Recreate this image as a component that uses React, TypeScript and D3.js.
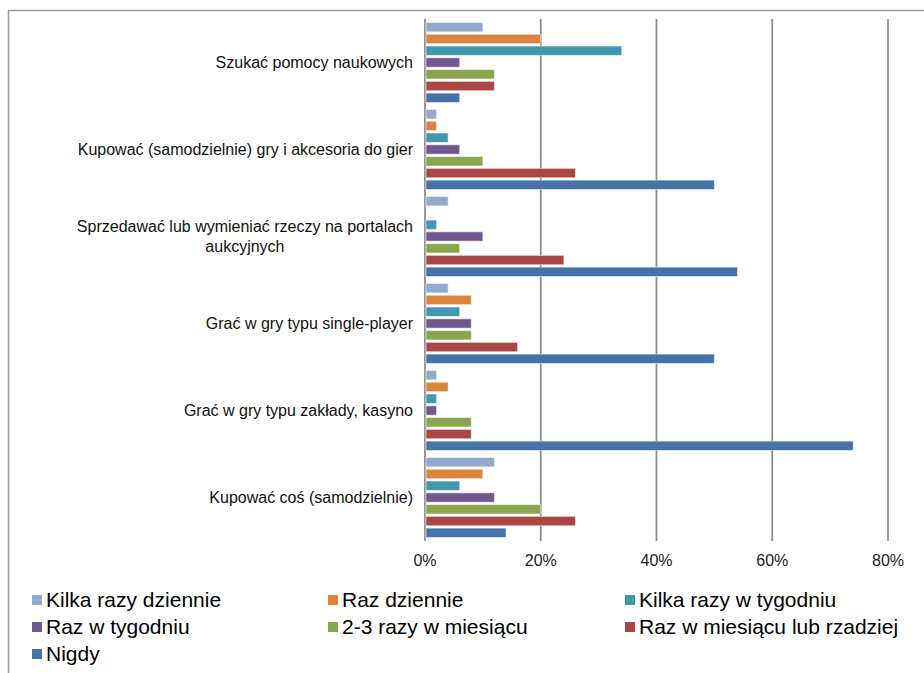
import React, { useEffect, useRef } from "react";
import * as d3 from "d3";

// Categories, top to bottom as they appear in the chart.
const categories = [
  ["Szukać pomocy naukowych"],
  ["Kupować (samodzielnie) gry i akcesoria do gier"],
  ["Sprzedawać lub wymieniać rzeczy na portalach", "aukcyjnych"],
  ["Grać w gry typu single-player"],
  ["Grać w gry typu zakłady, kasyno"],
  ["Kupować coś (samodzielnie)"],
];

const seriesNames = [
  "Kilka razy dziennie",
  "Raz dziennie",
  "Kilka razy w tygodniu",
  "Raz w tygodniu",
  "2-3 razy w miesiącu",
  "Raz w miesiącu lub rzadziej",
  "Nigdy",
];

const seriesColors = ["#93A9CF", "#DB843D", "#4198AF", "#71588F", "#89A54E", "#AA4643", "#4572A7"];

// Percent values per series, in category order.
const kilkaRazyDziennie = [10, 2, 4, 4, 2, 12];
const razDziennie = [20, 2, 0, 8, 4, 10];
const kilkaRazyWTygodniu = [34, 4, 2, 6, 2, 6];
const razWTygodniu = [6, 6, 10, 8, 2, 12];
const dwaTrzyRazyWMiesiacu = [12, 10, 6, 8, 8, 20];
const razWMiesiacuLubRzadziej = [12, 26, 24, 16, 8, 26];
const nigdy = [6, 50, 54, 50, 74, 14];

const seriesValues = [
  kilkaRazyDziennie,
  razDziennie,
  kilkaRazyWTygodniu,
  razWTygodniu,
  dwaTrzyRazyWMiesiacu,
  razWMiesiacuLubRzadziej,
  nigdy,
];

const xTicks = [0, 20, 40, 60, 80];

const W = 924;
const H = 673;
const FONT = "'Liberation Sans', Arial, sans-serif";

const App = () => {
  const ref = useRef<SVGSVGElement>(null);

  useEffect(() => {
    const svg = d3.select(ref.current);
    svg.selectAll("*").remove();

    const plot = { left: 425, right: 888, top: 19, bottom: 541 };

    // outer frame (only top and left edges are visible)
    svg.append("line").attr("x1", 8).attr("x2", W).attr("y1", 10.5).attr("y2", 10.5)
      .attr("stroke", "#9a9a9a").attr("stroke-width", 1.5);
    svg.append("line").attr("x1", 8.5).attr("x2", 8.5).attr("y1", 10).attr("y2", H)
      .attr("stroke", "#9a9a9a").attr("stroke-width", 1.5);

    const x = d3.scaleLinear().domain([0, 80]).range([plot.left, plot.right]);
    const y0 = d3
      .scaleBand<number>()
      .domain(d3.range(categories.length))
      .range([plot.top, plot.bottom])
      .paddingInner(0.08)
      .paddingOuter(0.04);
    const y1 = d3
      .scaleBand<number>()
      .domain(d3.range(seriesNames.length))
      .range([0, y0.bandwidth()])
      .paddingInner(0.2);

    // gridlines + axis line
    svg.append("g")
      .selectAll("line")
      .data(xTicks)
      .join("line")
      .attr("x1", (d) => x(d))
      .attr("x2", (d) => x(d))
      .attr("y1", plot.top)
      .attr("y2", plot.bottom)
      .attr("stroke", "#8a8a8a")
      .attr("stroke-width", 1.75);

    // tick labels
    svg.append("g")
      .selectAll("text")
      .data(xTicks)
      .join("text")
      .attr("x", (d) => x(d))
      .attr("y", 566)
      .attr("text-anchor", "middle")
      .attr("font-family", FONT)
      .attr("font-size", 16)
      .attr("fill", "#222")
      .text((d) => `${d}%`);

    // bars (zero values are skipped, index kept with each datum)
    seriesValues.forEach((vals, si) => {
      const rows = vals.map((v, ci) => ({ v, ci })).filter((d) => d.v > 0);
      svg.append("g")
        .selectAll("rect")
        .data(rows)
        .join("rect")
        .attr("x", x(0) + 1)
        .attr("y", (d) => (y0(d.ci) as number) + (y1(si) as number))
        .attr("width", (d) => x(d.v) - x(0) - 1)
        .attr("height", y1.bandwidth())
        .attr("fill", seriesColors[si])
        .attr("stroke", "rgba(255,255,255,0.55)")
        .attr("stroke-width", 1);
    });

    // category labels: right edge at 413, multi-line labels centred on each other
    const labelRight = 413;
    const lineH = 20;
    categories.forEach((lines, ci) => {
      const cy = (y0(ci) as number) + y0.bandwidth() / 2;
      const t = svg.append("text")
        .attr("font-family", FONT)
        .attr("font-size", 16)
        .attr("fill", "#111")
        .attr("text-anchor", "middle");
      lines.forEach((ln) => t.append("tspan").text(ln));
      const widths = t.selectAll<SVGTSpanElement, unknown>("tspan").nodes().map((n) => n.getComputedTextLength());
      const maxW = d3.max(widths) || 0;
      const cx = labelRight - maxW / 2;
      t.selectAll("tspan")
        .attr("x", cx)
        .attr("y", (_d, i) => cy + 5 + (i - (lines.length - 1) / 2) * lineH);
    });

    // legend
    const legendCols = [32, 328, 625];
    const legendRows = [600, 627, 654];
    seriesNames.forEach((name, i) => {
      const lx = legendCols[i % 3];
      const ly = legendRows[Math.floor(i / 3)];
      svg.append("rect")
        .attr("x", lx).attr("y", ly - 5)
        .attr("width", 10).attr("height", 10)
        .attr("fill", seriesColors[i]);
      svg.append("text")
        .attr("x", lx + 14)
        .attr("y", ly + 7)
        .attr("font-family", FONT)
        .attr("font-size", 21)
        .attr("fill", "#000")
        .text(name);
    });
  }, []);

  return (
    <div style={{ position: "absolute", left: 0, top: 0, width: W, height: H, background: "#fff" }}>
      <svg ref={ref} width={W} height={H} />
    </div>
  );
};

export default App;
